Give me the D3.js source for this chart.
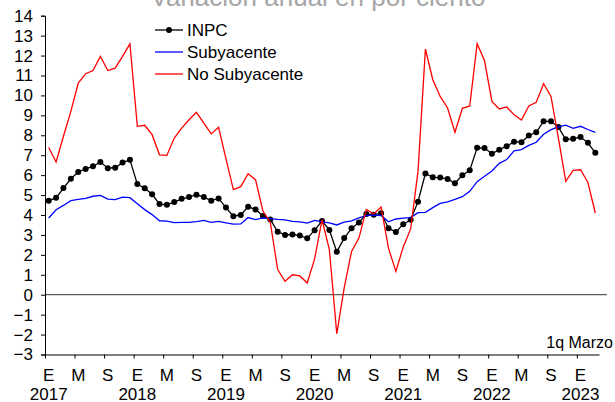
<!DOCTYPE html>
<html>
<head>
<meta charset="utf-8">
<script src="https://cdn.jsdelivr.net/npm/d3@7"></script>
<style>
  body { margin: 0; background: #fff; }
  svg { display: block; font-family: "Liberation Sans", Arial, sans-serif; }
</style>
</head>
<body>
<div id="chart"></div>
<script>
// monthly, Jan 2017 .. Mar 2023 (1q)
var startYear = 2017;
var monthLetters = ["E", "M", "S"];
var yTicks = d3.range(-3, 15);

var inpc = [
  4.72, 4.86, 5.35, 5.82, 6.16, 6.31, 6.44, 6.66, 6.35, 6.37, 6.63, 6.77,
  5.55, 5.34, 5.04, 4.55, 4.51, 4.65, 4.81, 4.90, 5.02, 4.90, 4.72, 4.83,
  4.37, 3.94, 4.00, 4.41, 4.28, 3.95, 3.78, 3.16, 3.00, 3.02, 2.97, 2.83,
  3.24, 3.70, 3.25, 2.15, 2.84, 3.33, 3.62, 4.05, 4.01, 4.09, 3.33, 3.15,
  3.54, 3.76, 4.67, 6.08, 5.89, 5.88, 5.81, 5.59, 6.00, 6.24, 7.37, 7.36,
  7.07, 7.28, 7.45, 7.68, 7.65, 7.99, 8.15, 8.70, 8.70, 8.41, 7.80, 7.82,
  7.91, 7.62, 7.12
];
var subyacente = [
  3.85, 4.26, 4.48, 4.72, 4.78, 4.83, 4.94, 4.98, 4.80, 4.77, 4.90, 4.87,
  4.56, 4.27, 4.02, 3.71, 3.69, 3.62, 3.63, 3.63, 3.67, 3.73, 3.63, 3.68,
  3.60, 3.54, 3.55, 3.87, 3.77, 3.85, 3.82, 3.78, 3.75, 3.68, 3.65, 3.59,
  3.73, 3.66, 3.60, 3.50, 3.64, 3.71, 3.85, 3.97, 3.99, 3.98, 3.66, 3.80,
  3.84, 3.87, 4.12, 4.13, 4.37, 4.58, 4.66, 4.78, 4.92, 5.19, 5.67, 5.94,
  6.21, 6.59, 6.78, 7.22, 7.28, 7.49, 7.65, 8.05, 8.28, 8.42, 8.51, 8.35,
  8.45, 8.29, 8.15
];
var noSubyacente = [
  7.39, 6.66, 7.95, 9.20, 10.62, 11.09, 11.25, 11.96, 11.25, 11.37, 11.96, 12.59,
  8.45, 8.50, 8.03, 7.02, 6.99, 7.86, 8.36, 8.78, 9.15, 8.61, 8.07, 8.40,
  6.82, 5.27, 5.42, 6.07, 5.77, 4.20, 3.64, 1.26, 0.67, 1.00, 0.94, 0.59,
  1.80, 3.76, 2.26, -1.96, 0.33, 2.17, 2.84, 4.28, 4.05, 4.40, 2.34, 1.17,
  2.40, 3.30, 6.20, 12.33, 10.79, 9.95, 9.37, 8.15, 9.35, 9.47, 12.59, 11.75,
  9.70, 9.32, 9.42, 9.03, 8.76, 9.47, 9.65, 10.59, 9.95, 7.87, 5.69, 6.24,
  6.27, 5.63, 4.10
];

var series = [
  { name: "INPC", values: inpc, color: "#000000", dots: true },
  { name: "Subyacente", values: subyacente, color: "#0000ff", dots: false },
  { name: "No Subyacente", values: noSubyacente, color: "#ff0000", dots: false }
];

var W = 615, H = 402;
var margin = { left: 45, right: 599, top: 15.7, bottom: 354.5 };
var n = inpc.length;

var svg = d3.select("#chart").append("svg")
  .attr("width", W)
  .attr("height", H);

// x: category boundaries, points sit in the middle of each month
var x = d3.scaleLinear().domain([0, n]).range([margin.left, margin.right]);
var y = d3.scaleLinear().domain([-3, 14]).range([margin.bottom, margin.top]);

// title (cut off at the top, as in the source)
svg.append("text")
  .attr("x", 318)
  .attr("y", 6)
  .attr("text-anchor", "middle")
  .style("font-size", "26px")
  .style("fill", "#a6a6a6")
  .text("Variación anual en por ciento");

// zero line
svg.append("line")
  .attr("x1", margin.left).attr("x2", 607)
  .attr("y1", y(0)).attr("y2", y(0))
  .attr("stroke", "#333")
  .attr("stroke-width", 1);

// y axis
var yAxis = d3.axisLeft(y)
  .tickValues(yTicks)
  .tickSize(4)
  .tickPadding(8)
  .tickFormat(d3.format("d"));

var gy = svg.append("g")
  .attr("transform", "translate(" + margin.left + ",0)")
  .call(yAxis);
gy.select(".domain").attr("stroke", "#000");
gy.selectAll(".tick text")
  .style("font-size", "17px")
  .style("fill", "#000");

// x axis: tick marks on month boundaries, every 4 months
var tickIdx = d3.range(0, n, 4);
var xAxis = d3.axisBottom(x)
  .tickValues(tickIdx)
  .tickSize(4)
  .tickSizeOuter(0)
  .tickFormat("");

svg.append("g")
  .attr("transform", "translate(0," + margin.bottom + ")")
  .call(xAxis)
  .select(".domain").attr("stroke", "#000");

svg.append("g").selectAll("text")
  .data(tickIdx)
  .join("text")
  .attr("x", function (d) { return x(d + 0.5); })
  .attr("y", 381)
  .attr("text-anchor", "middle")
  .style("font-size", "17px")
  .text(function (d, i) { return monthLetters[i % 3]; });

var yearIdx = tickIdx.filter(function (d) { return d % 12 === 0; });
svg.append("g").selectAll("text")
  .data(yearIdx)
  .join("text")
  .attr("x", function (d) { return x(d + 0.5); })
  .attr("y", 400)
  .attr("text-anchor", "middle")
  .style("font-size", "17px")
  .text(function (d) { return startYear + d / 12; });

svg.append("text")
  .attr("x", 613)
  .attr("y", 348)
  .attr("text-anchor", "end")
  .style("font-size", "16px")
  .text("1q Marzo");

// lines
var line = d3.line()
  .x(function (d, i) { return x(i + 0.5); })
  .y(function (d) { return y(d); });

series.forEach(function (s) {
  svg.append("path")
    .datum(s.values)
    .attr("fill", "none")
    .attr("stroke", s.color)
    .attr("stroke-width", 1.3)
    .attr("d", line);

  if (s.dots) {
    svg.append("g").selectAll("circle")
      .data(s.values)
      .join("circle")
      .attr("cx", function (d, i) { return x(i + 0.5); })
      .attr("cy", function (d) { return y(d); })
      .attr("r", 3)
      .attr("fill", s.color);
  }
});

// legend
var legend = svg.append("g");
series.forEach(function (s, i) {
  var ly = 30 + i * 22;
  legend.append("line")
    .attr("x1", 155).attr("x2", 183)
    .attr("y1", ly).attr("y2", ly)
    .attr("stroke", s.color)
    .attr("stroke-width", 1.3);
  if (s.dots) {
    legend.append("circle")
      .attr("cx", 169).attr("cy", ly).attr("r", 3)
      .attr("fill", s.color);
  }
  legend.append("text")
    .attr("x", 187)
    .attr("y", ly + 6)
    .style("font-size", "17px")
    .text(s.name);
});
</script>
</body>
</html>
